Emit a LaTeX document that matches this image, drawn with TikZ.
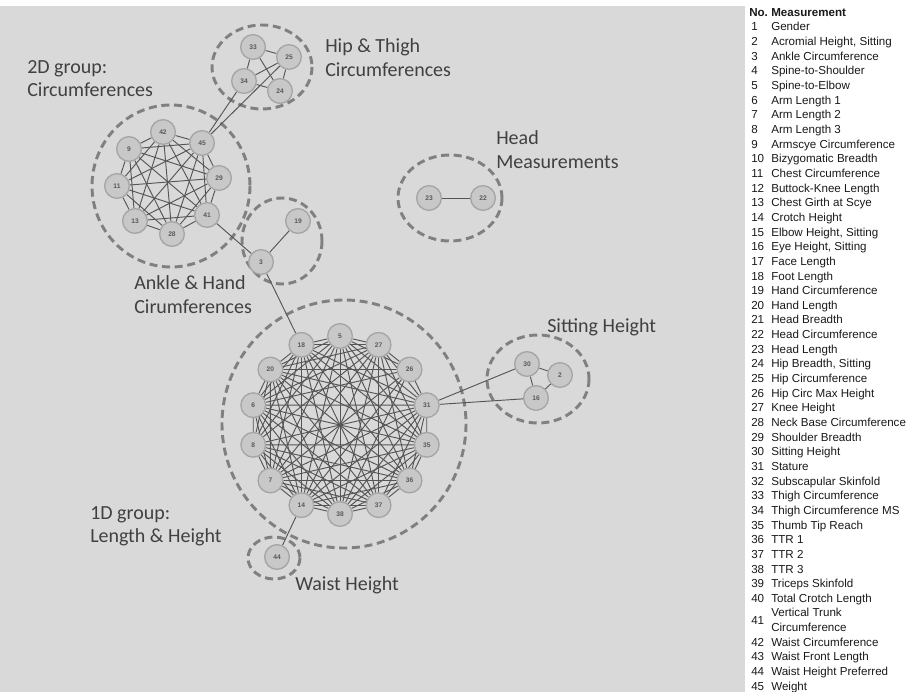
\documentclass[tikz,border=0pt]{standalone}
\usepackage{fontspec}
\setmainfont{Liberation Sans}
\newfontfamily\calib{Carlito}
\usetikzlibrary{calc}
\definecolor{panel}{RGB}{217,217,217}
\definecolor{nodefill}{RGB}{200,200,200}
\definecolor{nodeline}{RGB}{165,165,165}
\definecolor{linkcol}{RGB}{85,85,85}
\definecolor{dashcol}{RGB}{128,128,128}
\definecolor{labcol}{RGB}{64,64,64}
\pgfdeclarelayer{back}
\pgfdeclarelayer{links}
\pgfsetlayers{back,links,main}
\tikzset{
  meas/.style={circle, fill=nodefill, draw=nodeline, line width=1pt, minimum size=18.5pt, inner sep=0pt, font=\fontsize{5}{5}\selectfont\bfseries, text=black!65},
  link/.style={draw=linkcol, line width=0.7pt},
  grp/.style={draw=dashcol, line width=2.2pt, dash pattern=on 6pt off 3.5pt},
  grplabel/.style={font=\calib\fontsize{15}{17.5}\selectfont, text=labcol, align=left, anchor=west, inner sep=0pt},
  listtxt/.style={font=\fontsize{8.7}{11}\selectfont, anchor=base west, inner sep=0pt, text=black!90},
  listhead/.style={listtxt, font=\fontsize{8.7}{11}\selectfont\bfseries},
}

\begin{document}
\begin{tikzpicture}[x=0.75pt, y=-0.75pt]
\useasboundingbox (0,0) rectangle (908,692);
\begin{pgfonlayer}{back}
  \fill[panel] (0,6) rectangle (745,692);
  \draw[grp] (262,67) ellipse [x radius=50, y radius=42];
  \draw[grp] (171,186) ellipse [x radius=79, y radius=81];
  \draw[grp] (450,198) ellipse [x radius=52, y radius=43];
  \draw[grp] (282,241) ellipse [x radius=40, y radius=43];
  \draw[grp] (344,424) ellipse [x radius=122, y radius=124];
  \draw[grp] (538,379) ellipse [x radius=51, y radius=44];
  \draw[grp] (274,558) ellipse [x radius=26, y radius=21];
\end{pgfonlayer}

\node[meas] (n33) at (253,47) {33};
\node[meas] (n25) at (289,57) {25};
\node[meas] (n34) at (244,81) {34};
\node[meas] (n24) at (280,91) {24};
\node[meas] (n42) at (163,132) {42};
\node[meas] (n45) at (202,143) {45};
\node[meas] (n9) at (129,149) {9};
\node[meas] (n29) at (219,178) {29};
\node[meas] (n11) at (117,186) {11};
\node[meas] (n41) at (207,215) {41};
\node[meas] (n13) at (135,221) {13};
\node[meas] (n28) at (172,234) {28};
\node[meas] (n23) at (429,198) {23};
\node[meas] (n22) at (483,198) {22};
\node[meas] (n19) at (298,221) {19};
\node[meas] (n3) at (261,262) {3};
\foreach \n [count=\k from 0] in {5,27,26,31,35,36,37,38,14,7,8,6,20,18}
  \node[meas] (n\n) at ($(340,425)+({\k*360/14-90}:89)$) {\n};
\node[meas] (n30) at (527,364) {30};
\node[meas] (n2) at (560,375) {2};
\node[meas] (n16) at (536,398) {16};
\node[meas] (n44) at (277,557) {44};

\begin{pgfonlayer}{links}
  \foreach \a/\b in {33/25,33/34,33/24,34/25,34/24,25/24,45/34,45/25,3/41,3/19,3/18,23/22,
                     31/30,31/16,30/2,30/16,16/2,14/44,26/27,26/31,26/5,26/20,26/6,26/7,26/14,26/38}
    \draw[link] (n\a) -- (n\b);
  \foreach \a [count=\i] in {42,45,29,41,28,13,11,9}
    \foreach \b [count=\j] in {42,45,29,41,28,13,11,9}
      {\ifnum\i<\j \draw[link] (n\a) -- (n\b); \fi}
  \foreach \a [count=\i] in {5,27,31,35,36,37,38,14,7,8,6,20,18}
    \foreach \b [count=\j] in {5,27,31,35,36,37,38,14,7,8,6,20,18}
      {\ifnum\i<\j \draw[link] (n\a) -- (n\b); \fi}
\end{pgfonlayer}

\node[grplabel] (l2d) at (27,78.5) {2D group:\\Circumferences};
\node[grplabel] (lhip) at (325,57.5) {Hip \& Thigh\\Circumferences};
\node[grplabel] (lhead) at (496,149.5) {Head\\Measurements};
\node[grplabel] (lank) at (134,294.5) {Ankle \& Hand\\Cirumferences};
\node[grplabel] (lsit) at (547,327) {Sitting Height};
\node[grplabel] (l1d) at (90,526.5) {1D group:\\Length \& Height};
\node[grplabel] (lwaist) at (295,585) {Waist Height};

\node[listhead] (hno) at (749,16.3) {No.};
\node[listhead] (hmeas) at (771,16.3) {Measurement};
\foreach \t [count=\i] in {Gender, {Acromial Height, Sitting}, Ankle Circumference, Spine-to-Shoulder,
    Spine-to-Elbow, Arm Length 1, Arm Length 2, Arm Length 3, Armscye Circumference,
    Bizygomatic Breadth, Chest Circumference, Buttock-Knee Length, Chest Girth at Scye,
    Crotch Height, {Elbow Height, Sitting}, {Eye Height, Sitting}, Face Length, Foot Length,
    Hand Circumference, Hand Length, Head Breadth, Head Circumference, Head Length,
    {Hip Breadth, Sitting}, Hip Circumference, Hip Circ Max Height, Knee Height,
    Neck Base Circumference, Shoulder Breadth, Sitting Height, Stature, Subscapular Skinfold,
    Thigh Circumference, Thigh Circumference MS, Thumb Tip Reach, TTR 1, TTR 2, TTR 3,
    Triceps Skinfold, Total Crotch Length}
{
  \node[listtxt] (k\i) at (751,{16.3+\i*14.65}) {\i};
  \node[listtxt] (m\i) at (771,{16.3+\i*14.65}) {\t};
}
\node[listtxt] (k41) at (751,624.3) {41};
\node[listtxt] (m41a) at (771,616.9) {Vertical Trunk};
\node[listtxt] (m41b) at (771,631.6) {Circumference};
\foreach \t [count=\i from 42] in {Waist Circumference, Waist Front Length, Waist Height Preferred, Weight}
{
  \node[listtxt] (k\i) at (751,{16.3+(\i+1)*14.65}) {\i};
  \node[listtxt] (m\i) at (771,{16.3+(\i+1)*14.65}) {\t};
}
\end{tikzpicture}
\end{document}
